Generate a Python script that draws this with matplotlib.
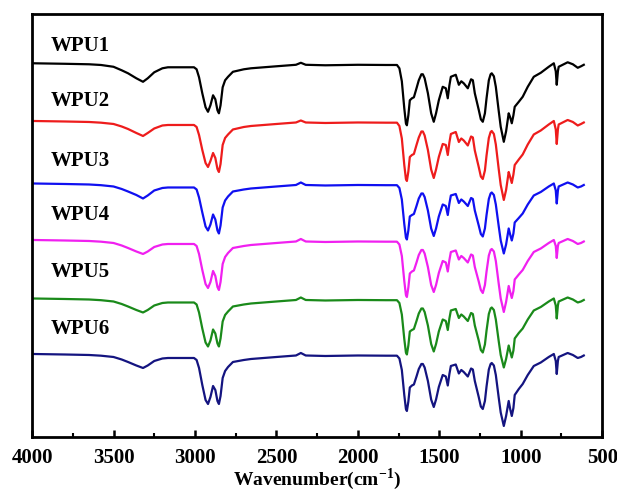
import matplotlib
matplotlib.use('Agg')
import matplotlib.pyplot as plt
from matplotlib.ticker import MultipleLocator

plt.rcParams['font.family'] = 'Liberation Serif'
plt.rcParams['font.weight'] = 'bold'

# wavenumber grids (cm-1)
wn_high = [3994, 3800, 3650, 3577, 3500, 3450, 3411, 3360, 3319, 3290,
           3250, 3200, 3166, 3006, 2990, 2975, 2955, 2935, 2920, 2905,
           2889, 2875, 2862, 2853, 2843, 2830, 2815, 2797, 2767, 2700,
           2656, 2500, 2380, 2350, 2320, 2200, 2000, 1828, 1760]
wn_low = [1745, 1730, 1715, 1705, 1699, 1690, 1681, 1668, 1656, 1640,
          1626, 1610, 1601, 1590, 1570, 1550, 1534, 1520, 1503, 1479,
          1460, 1448, 1438, 1429, 1399, 1380, 1365, 1350, 1325, 1305,
          1294, 1282, 1258, 1245, 1233, 1220, 1210, 1196, 1185, 1178,
          1165, 1153, 1135, 1123, 1104, 1090, 1074, 1065, 1055, 1045,
          1037, 1012, 988, 957, 920, 877, 828, 797, 785, 779,
          772, 767, 712, 680, 650, 630, 613]

# absorption depth below each trace's baseline (a.u.)
high_wpu1 = [0, 0.5, 1, 1.7, 3.5, 7, 10, 15, 18.5, 15,
             9, 5, 4, 4, 6, 14, 30, 44, 48.5, 42,
             32, 36, 47, 50, 42, 24, 17, 13.5, 8.5, 6,
             5, 3, 1.5, -0.5, 1.5, 2, 1.5, 1.7, 1.7]
low_wpu1 = [5, 18, 45, 60, 62, 52, 37, 35, 34, 25,
            17, 11, 11, 15, 30, 50, 58.5, 50, 37, 23.5,
            25, 35, 22, 13.5, 11.5, 21.5, 18, 20, 25, 16,
            17, 30, 46.5, 56, 58.5, 50, 35, 17, 11, 10,
            13, 23.5, 48, 63.5, 78.5, 68, 50, 54, 60, 52,
            43.5, 38.5, 33.5, 23.5, 13.5, 9.5, 3.5, 0, 8, 21.5,
            8, 3.5, -1, 1, 4.5, 3, 1.5]

high_wpu2 = [0, 0.5, 1, 1.7, 3, 5.5, 8, 12, 15, 12,
             7.5, 4.5, 4, 4, 6, 14, 29, 42, 46, 40,
             32, 37, 48, 51, 43, 24, 17, 13.5, 8.5, 6,
             5, 3, 1.5, -0.5, 1.5, 2, 1.5, 1.7, 1.7]
low_wpu2 = [5, 17.5, 44, 58, 60, 50.5, 36, 34, 33, 24,
            16.5, 10.5, 10.5, 14.5, 29, 48.5, 57, 48.5, 36, 23,
            24, 34, 21.5, 13, 11, 21, 17.5, 19.5, 24.5, 15.5,
            16.5, 29.5, 46, 55.5, 58, 49.5, 34.5, 17, 11, 10,
            13, 23.5, 48.5, 64, 79, 69, 51, 56, 62, 53.5,
            44, 38.5, 33.5, 23.5, 13.5, 9.5, 3.5, 0, 8.5, 23,
            8.5, 3.5, -1, 1, 4.5, 3, 1.5]

high_wpu3 = [0, 0.5, 1, 1.7, 3, 5.5, 8, 11.5, 15, 12,
             7, 4.5, 4, 4, 6, 14, 29, 43, 47, 41,
             31, 36, 47, 50, 42, 24, 17, 13, 8, 6,
             5, 3, 1.5, -1, 1.5, 2, 1.5, 1.7, 1.7]
low_wpu3 = [4.5, 16, 40.5, 54, 56, 47, 33, 31.5, 30.5, 22.5,
            15, 10, 10, 13.5, 27, 45, 52.5, 45, 33, 21,
            22.5, 31.5, 20, 12, 10.5, 19.5, 16, 18, 22.5, 14.5,
            15.5, 27, 42, 50.5, 53, 45, 31.5, 15.5, 10, 9,
            11.5, 21, 43, 57, 70, 61, 45, 51, 57, 50,
            39, 34.5, 30, 21, 12, 8.5, 3, 0, 7, 20,
            7, 3, -1, 1, 4, 3, 1.5]

high_wpu4 = [0, 0.5, 1, 1.7, 3, 5.5, 8, 11.5, 14, 11.5,
             7, 4.5, 4, 4, 6, 14, 30, 44, 48, 42,
             31, 36, 47, 50, 42, 24, 17, 13, 8, 6,
             5, 3, 1.5, -1, 1.5, 2, 1.5, 1.7, 1.7]
low_wpu4 = [4.5, 16, 41, 55, 57, 47.5, 33.5, 31.5, 30.5, 22.5,
            15, 10, 10, 13.5, 27, 45, 52, 45, 33, 21,
            22.5, 31.5, 20, 12, 10.5, 19.5, 16, 18, 22.5, 14.5,
            15.5, 27, 41.5, 50, 53, 45, 31.5, 15.5, 10, 9,
            11.5, 21, 44, 58.5, 72, 62, 46, 52, 58, 51,
            39.5, 34.5, 30, 21, 12, 8.5, 3, 0, 6, 18,
            6, 3, -1, 1, 4, 3, 1.5]

high_wpu5 = [0, 0.5, 1, 1.7, 3, 5.5, 8, 11.5, 14, 11.5,
             7, 4.5, 4, 4, 6, 14, 30, 44, 48, 42,
             31, 35, 45, 48, 40, 23, 16.5, 13, 8, 6,
             5, 3, 1.5, -1, 1.5, 2, 1.5, 1.7, 1.7]
low_wpu5 = [4.5, 16, 40.5, 54, 56, 47, 33, 31.5, 30.5, 22.5,
            15, 10, 10, 13.5, 27, 45.5, 53, 45.5, 33, 21,
            22.5, 31.5, 20, 12, 10.5, 19.5, 16, 18, 22.5, 14.5,
            15.5, 27, 42, 51.5, 54, 46, 32, 15.5, 10, 9,
            11.5, 21, 43, 56.5, 69, 60.5, 47, 53, 59, 52,
            40, 34.5, 30, 21, 12, 8.5, 3, 0, 7, 20,
            7, 3, -1, 1, 4, 3, 1.5]

high_wpu6 = [0, 0.5, 1, 1.7, 3, 5.5, 8, 11.5, 14, 11.5,
             7, 4.5, 4, 4, 6, 14, 31, 46, 50, 43,
             32, 36, 47, 50, 42, 24, 17, 13, 8, 6,
             5, 3, 1.5, -1, 1.5, 2, 1.5, 1.7, 1.7]
low_wpu6 = [4.5, 16, 41, 55, 57, 47.5, 33.5, 31.5, 30.5, 22.5,
            15, 10, 10, 13.5, 27, 45.5, 53, 45.5, 33, 21,
            22.5, 31.5, 20, 12, 10.5, 19.5, 16, 18, 22.5, 14.5,
            15.5, 27, 43, 52.5, 55, 47, 32.5, 15.5, 10, 9,
            11.5, 21, 44, 58.5, 72, 62, 47, 55, 62, 54,
            41, 35, 30, 21, 12, 8.5, 3, 0, 7, 20,
            7, 3, -1, 1, 4, 3, 1.5]

samples = ['WPU1', 'WPU2', 'WPU3', 'WPU4', 'WPU5', 'WPU6']
highs = [high_wpu1, high_wpu2, high_wpu3, high_wpu4, high_wpu5, high_wpu6]
lows = [low_wpu1, low_wpu2, low_wpu3, low_wpu4, low_wpu5, low_wpu6]
offsets = [373.7, 316, 253.5, 197, 138.5, 83]
label_y = [390.5, 336, 276, 221.5, 164.5, 107.5]
colors = ['black', '#ee1c1c', '#1010f0', '#f020f0', '#1a8a1a', '#141480']

fig = plt.figure(figsize=(6.17, 4.94), dpi=100)
ax = fig.add_axes([0.052, 0.1154, 0.924, 0.8563])

wavenumber = wn_high + wn_low
for name, hi, lo, off, ly, c in zip(samples, highs, lows, offsets, label_y, colors):
    depth = hi + lo
    ax.plot(wavenumber, [off - d for d in depth], color=c, lw=1.6)
    ax.text(3885, ly, name, fontsize=15, fontweight='bold', va='center', ha='left')

ax.set_xlim(4000, 500)
ax.set_ylim(0, 423)
ax.set_yticks([])
ax.xaxis.set_major_locator(MultipleLocator(500))
ax.xaxis.set_minor_locator(MultipleLocator(250))
ax.tick_params(axis='x', which='major', direction='in', length=5, width=1.8,
               labelsize=15, pad=8)
ax.tick_params(axis='x', which='minor', direction='in', length=3, width=1.5)
for s in ax.spines.values():
    s.set_linewidth(2)

ax.set_xlabel(r'Wavenumber(cm$^{\mathregular{-1}}$)', fontsize=14,
              fontweight='bold', labelpad=-1)

fig.savefig('out.png', dpi=100)
